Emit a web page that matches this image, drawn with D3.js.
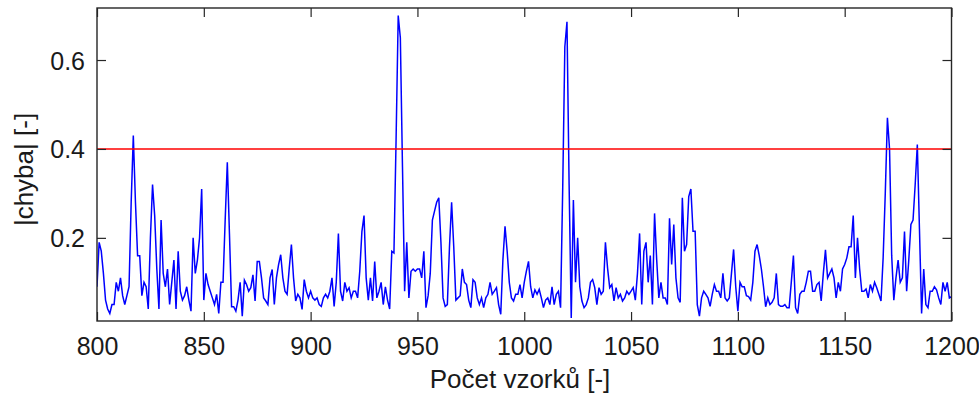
<!DOCTYPE html>
<html>
<head>
<meta charset="utf-8">
<script src="https://cdn.jsdelivr.net/npm/d3@7"></script>
<style>
  html, body { margin: 0; padding: 0; background: #fff; }
  svg { display: block; }
  text { font-family: "Liberation Sans", Arial, sans-serif; fill: #1a1a1a; }
</style>
</head>
<body>
<svg id="chart" width="979" height="396"></svg>
<script>
// ---- data ----
const firstSample = 800;
const errorValues = [
  0.09, 0.19, 0.17, 0.12, 0.06, 0.04, 0.03, 0.05, 0.05, 0.10,
  0.08, 0.11, 0.07, 0.05, 0.07, 0.09, 0.28, 0.43, 0.28, 0.16,
  0.16, 0.07, 0.10, 0.09, 0.04, 0.20, 0.32, 0.25, 0.13, 0.04,
  0.24, 0.12, 0.09, 0.13, 0.05, 0.10, 0.15, 0.04, 0.17, 0.08,
  0.06, 0.07, 0.09, 0.06, 0.035, 0.20, 0.12, 0.15, 0.20, 0.31,
  0.06, 0.12, 0.095, 0.08, 0.065, 0.05, 0.073, 0.03, 0.10, 0.10,
  0.24, 0.37, 0.21, 0.045, 0.045, 0.035, 0.06, 0.10, 0.024, 0.105,
  0.095, 0.08, 0.088, 0.117, 0.058, 0.147, 0.147, 0.11, 0.065, 0.058,
  0.05, 0.11, 0.129, 0.05, 0.11, 0.14, 0.162, 0.11, 0.08, 0.073,
  0.132, 0.185, 0.11, 0.058, 0.073, 0.065, 0.039, 0.106, 0.08, 0.065,
  0.08, 0.065, 0.06, 0.065, 0.05, 0.046, 0.065, 0.073, 0.065, 0.08,
  0.11, 0.046, 0.10, 0.21, 0.08, 0.058, 0.10, 0.08, 0.088, 0.065,
  0.08, 0.08, 0.065, 0.125, 0.214, 0.25, 0.11, 0.06, 0.11, 0.058,
  0.147, 0.065, 0.08, 0.10, 0.05, 0.09, 0.06, 0.04, 0.17, 0.166,
  0.42, 0.70, 0.65, 0.36, 0.08, 0.19, 0.065, 0.125, 0.13, 0.125,
  0.13, 0.13, 0.11, 0.17, 0.043, 0.07, 0.12, 0.24, 0.26, 0.28,
  0.29, 0.19, 0.065, 0.046, 0.05, 0.18, 0.28, 0.18, 0.06, 0.065,
  0.07, 0.13, 0.10, 0.095, 0.06, 0.043, 0.106, 0.10, 0.065, 0.05,
  0.065, 0.043, 0.065, 0.073, 0.10, 0.073, 0.08, 0.088, 0.05, 0.028,
  0.15, 0.226, 0.17, 0.10, 0.065, 0.058, 0.073, 0.073, 0.095, 0.065,
  0.10, 0.125, 0.147, 0.09, 0.065, 0.083, 0.073, 0.084, 0.065, 0.043,
  0.06, 0.065, 0.05, 0.09, 0.05, 0.073, 0.08, 0.043, 0.31, 0.63,
  0.686, 0.32, 0.02, 0.285, 0.10, 0.20, 0.09, 0.058, 0.043, 0.05,
  0.065, 0.10, 0.106, 0.088, 0.05, 0.088, 0.073, 0.08, 0.19, 0.132,
  0.088, 0.095, 0.058, 0.088, 0.065, 0.073, 0.058, 0.065, 0.08, 0.073,
  0.08, 0.088, 0.06, 0.12, 0.21, 0.05, 0.17, 0.19, 0.10, 0.16,
  0.05, 0.255, 0.15, 0.065, 0.10, 0.065, 0.065, 0.05, 0.244, 0.14,
  0.23, 0.11, 0.065, 0.055, 0.29, 0.17, 0.185, 0.293, 0.31, 0.215,
  0.215, 0.05, 0.024, 0.065, 0.08, 0.073, 0.065, 0.046, 0.073, 0.095,
  0.08, 0.08, 0.065, 0.12, 0.065, 0.058, 0.065, 0.12, 0.174, 0.09,
  0.035, 0.10, 0.09, 0.09, 0.07, 0.068, 0.06, 0.10, 0.17, 0.185,
  0.16, 0.13, 0.09, 0.045, 0.065, 0.05, 0.055, 0.065, 0.12, 0.05,
  0.046, 0.046, 0.05, 0.043, 0.043, 0.10, 0.16, 0.043, 0.03, 0.073,
  0.08, 0.08, 0.10, 0.125, 0.125, 0.08, 0.08, 0.095, 0.10, 0.058,
  0.12, 0.173, 0.11, 0.12, 0.13, 0.11, 0.065, 0.10, 0.08, 0.13,
  0.14, 0.155, 0.18, 0.18, 0.25, 0.11, 0.20, 0.13, 0.08, 0.08,
  0.085, 0.065, 0.095, 0.08, 0.10, 0.088, 0.073, 0.058, 0.155, 0.30,
  0.47, 0.40, 0.16, 0.06, 0.11, 0.15, 0.10, 0.11, 0.214, 0.08,
  0.15, 0.23, 0.24, 0.32, 0.41, 0.22, 0.03, 0.13, 0.05, 0.043,
  0.08, 0.08, 0.09, 0.083, 0.065, 0.05, 0.10, 0.08, 0.10, 0.065,
  0.068
];
const threshold = 0.4;
const xDomain = [800, 1200];
const yDomain = [0.013, 0.717];
const xTicks = [800, 850, 900, 950, 1000, 1050, 1100, 1150, 1200];
const yTicks = [0.2, 0.4, 0.6];
const xLabel = "Počet vzorků [-]";
const yLabel = "|chyba| [-]";

// ---- layout ----
const L = 97, R = 951.5, T = 8, B = 321;
const svg = d3.select("#chart");
svg.append("rect").attr("width", 979).attr("height", 396).attr("fill", "#fff");

const x = d3.scaleLinear().domain(xDomain).range([L, R]);
const y = d3.scaleLinear().domain(yDomain).range([B, T]);

const samples = errorValues.map((v, i) => ({ n: firstSample + i, v }));

svg.append("clipPath").attr("id", "clip")
  .append("rect").attr("x", L).attr("y", T).attr("width", R - L).attr("height", B - T);

const plot = svg.append("g").attr("clip-path", "url(#clip)");

plot.append("path")
  .datum(samples)
  .attr("fill", "none")
  .attr("stroke", "#0000ff")
  .attr("stroke-width", 1.5)
  .attr("stroke-linejoin", "miter")
  .attr("d", d3.line().x(d => x(d.n)).y(d => y(d.v)));

plot.append("line")
  .attr("x1", x(xDomain[0])).attr("x2", x(xDomain[1]))
  .attr("y1", y(threshold)).attr("y2", y(threshold))
  .attr("stroke", "#ff0000").attr("stroke-width", 1.6);

// axes
const tickLen = 9;
const fs = 25;
const gx = svg.append("g").attr("transform", `translate(0,${B})`)
  .call(d3.axisBottom(x).tickValues(xTicks).tickFormat(d3.format("d")).tickSizeInner(-tickLen).tickSizeOuter(0));
const gxTop = svg.append("g").attr("transform", `translate(0,${T})`)
  .call(d3.axisTop(x).tickValues(xTicks).tickFormat("").tickSizeInner(-tickLen).tickSizeOuter(0));
const gy = svg.append("g").attr("transform", `translate(${L},0)`)
  .call(d3.axisLeft(y).tickValues(yTicks).tickFormat(d3.format(".1f")).tickSizeInner(-tickLen).tickSizeOuter(0));
const gyR = svg.append("g").attr("transform", `translate(${R},0)`)
  .call(d3.axisRight(y).tickValues(yTicks).tickFormat("").tickSizeInner(-tickLen).tickSizeOuter(0));

[gx, gxTop, gy, gyR].forEach(g => {
  g.select(".domain").remove();
  g.selectAll(".tick line").attr("stroke", "#262626").attr("stroke-width", 1.2);
});

gx.selectAll(".tick text")
  .attr("y", 34).attr("dy", 0)
  .attr("font-size", fs).attr("font-family", "Liberation Sans, Arial, sans-serif")
  .attr("fill", "#1a1a1a");
gy.selectAll(".tick text")
  .attr("x", -12).attr("dy", 0).attr("y", 9)
  .attr("font-size", fs).attr("font-family", "Liberation Sans, Arial, sans-serif")
  .attr("fill", "#1a1a1a");

// box
svg.append("rect")
  .attr("x", L).attr("y", T).attr("width", R - L).attr("height", B - T)
  .attr("fill", "none").attr("stroke", "#262626").attr("stroke-width", 1.4);

// labels
svg.append("text")
  .attr("x", 520).attr("y", 388)
  .attr("text-anchor", "middle")
  .attr("font-size", 26)
  .text(xLabel);

svg.append("text")
  .attr("transform", `translate(33,${(T + B) / 2 + 5}) rotate(-90)`)
  .attr("text-anchor", "middle")
  .attr("font-size", 26)
  .text(yLabel);
</script>
</body>
</html>
